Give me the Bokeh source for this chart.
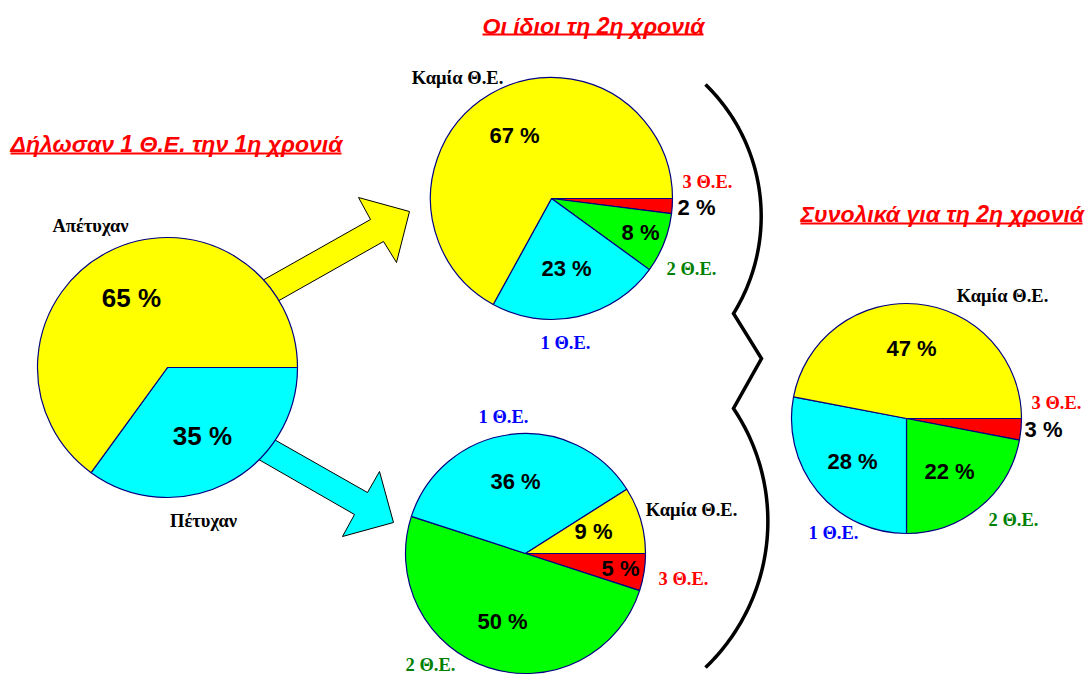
import numpy as np
from bokeh.plotting import figure
from bokeh.models import Range1d, ColumnDataSource
from bokeh.core.properties import value
from bokeh.embed import file_html
from bokeh.resources import INLINE

# ---------------- data ----------------
titles = ["Δήλωσαν 1 Θ.Ε. την 1η χρονιά", "Οι ίδιοι τη 2η χρονιά", "Συνολικά για τη 2η χρονιά"]
first_year_cats = ["Πέτυχαν", "Απέτυχαν"]
first_year_vals = [35, 65]
cats = ["3 Θ.Ε.", "2 Θ.Ε.", "1 Θ.Ε.", "Καμία Θ.Ε."]
failed_second_vals = [2, 8, 23, 67]    # of those who failed (Απέτυχαν)
passed_second_vals = [5, 50, 36, 9]    # of those who passed (Πέτυχαν)
total_second_vals = [3, 22, 28, 47]    # overall, 2nd year

# ---------------- styles ----------------
YELLOW, CYAN, GREEN, RED = "#FFFF00", "#00FFFF", "#00FF00", "#FF0000"
slice_colors = {"Πέτυχαν": CYAN, "Απέτυχαν": YELLOW, "3 Θ.Ε.": RED,
                "2 Θ.Ε.": GREEN, "1 Θ.Ε.": CYAN, "Καμία Θ.Ε.": YELLOW}
label_colors = {"Πέτυχαν": "black", "Απέτυχαν": "black", "3 Θ.Ε.": "#FF0000",
                "2 Θ.Ε.": "#008000", "1 Θ.Ε.": "#0000FF", "Καμία Θ.Ε.": "black"}
SANS = value("Liberation Sans")
SERIF = value("Liberation Serif")

W, H = 1085, 675
def Y(v):
    return H - v

p = figure(width=W, height=H, x_range=Range1d(0, W), y_range=Range1d(0, H),
           x_axis_type=None, y_axis_type=None, output_backend="svg",
           toolbar_location=None, min_border=0)
p.grid.visible = False
p.outline_line_color = None
p.background_fill_color = "white"
p.border_fill_color = "white"

# ---------------- arrows (drawn below pies) ----------------
arrow_shapes = [
    ([237, 370, 358, 409, 396, 383, 252], [294, 219, 197, 211, 262, 241, 315], YELLOW),
    ([249, 367, 379, 393, 342, 354, 232], [425, 492, 471, 522, 536, 514, 444], CYAN),
]
for ax_, ay_, col in arrow_shapes:
    p.patch(ax_, [Y(v) for v in ay_], fill_color=col, line_color="black", line_width=1)

# ---------------- pies ----------------
def draw_pie(cx, cy, r, labels, vals, pct_pos, lbl_pos, pct_size):
    vals = np.array(vals, dtype=float)
    cum = np.concatenate([[0], np.cumsum(vals)[:-1]])
    src = ColumnDataSource(dict(
        start=-(cum + vals) / 100 * 2 * np.pi,
        end=-cum / 100 * 2 * np.pi,
        color=[slice_colors[l] for l in labels],
    ))
    p.wedge(x=cx, y=Y(cy), radius=r, start_angle="start", end_angle="end",
            fill_color="color", line_color="#000080", line_width=1.2, source=src)
    p.text(x=[pct_pos[l][0] for l in labels], y=[Y(pct_pos[l][1]) for l in labels],
           text=[f"{int(v)} %" for v in vals], text_font=SANS, text_font_style="bold",
           text_font_size=pct_size, text_align="center", text_baseline="middle",
           text_color="black")
    p.text(x=[lbl_pos[l][0] for l in labels], y=[Y(lbl_pos[l][1]) for l in labels],
           text=list(labels), text_font=SERIF, text_font_style="bold",
           text_font_size="18.5px", text_align="center", text_baseline="middle",
           text_color=[label_colors[l] for l in labels])

draw_pie(167, 367, 130, first_year_cats, first_year_vals,
         {"Απέτυχαν": (131, 297), "Πέτυχαν": (202, 435)},
         {"Απέτυχαν": (90, 225), "Πέτυχαν": (203, 520)}, "26px")

draw_pie(551, 198, 121, cats, failed_second_vals,
         {"3 Θ.Ε.": (696, 207), "2 Θ.Ε.": (640, 232), "1 Θ.Ε.": (566, 268), "Καμία Θ.Ε.": (514, 135)},
         {"3 Θ.Ε.": (707, 181), "2 Θ.Ε.": (691, 268), "1 Θ.Ε.": (565, 342), "Καμία Θ.Ε.": (457, 77)},
         "22px")

draw_pie(525, 553, 120, cats, passed_second_vals,
         {"3 Θ.Ε.": (620, 568), "2 Θ.Ε.": (502, 621), "1 Θ.Ε.": (515, 481), "Καμία Θ.Ε.": (593, 531)},
         {"3 Θ.Ε.": (683, 578), "2 Θ.Ε.": (430, 664), "1 Θ.Ε.": (503, 416), "Καμία Θ.Ε.": (691, 509)},
         "22px")

draw_pie(906, 418, 115, cats, total_second_vals,
         {"3 Θ.Ε.": (1043, 429), "2 Θ.Ε.": (949, 471), "1 Θ.Ε.": (852, 461), "Καμία Θ.Ε.": (911, 348)},
         {"3 Θ.Ε.": (1056, 402), "2 Θ.Ε.": (1013, 519), "1 Θ.Ε.": (833, 532), "Καμία Θ.Ε.": (1002, 295)},
         "22px")

# ---------------- titles with underline ----------------
title_pos = [(10, 143, 153, 341), (482, 25, 34, 703), (800, 213, 223, 1082)]
p.text(x=[t[0] for t in title_pos], y=[Y(t[1]) for t in title_pos], text=titles,
       text_font=SANS, text_font_style="bold italic", text_font_size="23px",
       text_align="left", text_baseline="middle", text_color=RED)
p.segment(x0=[t[0] for t in title_pos], y0=[Y(t[2]) for t in title_pos],
          x1=[t[3] for t in title_pos], y1=[Y(t[2]) for t in title_pos],
          line_color=RED, line_width=2)

# ---------------- brace ----------------
def arc_through(a, b, c, n=80):
    (ax_, ay_), (bx, by), (cx_, cy_) = a, b, c
    d = 2 * (ax_ * (by - cy_) + bx * (cy_ - ay_) + cx_ * (ay_ - by))
    ux = ((ax_**2 + ay_**2) * (by - cy_) + (bx**2 + by**2) * (cy_ - ay_) + (cx_**2 + cy_**2) * (ay_ - by)) / d
    uy = ((ax_**2 + ay_**2) * (cx_ - bx) + (bx**2 + by**2) * (ax_ - cx_) + (cx_**2 + cy_**2) * (bx - ax_)) / d
    rr = np.hypot(ax_ - ux, ay_ - uy)
    t0 = np.arctan2(ay_ - uy, ax_ - ux)
    t1 = np.arctan2(cy_ - uy, cx_ - ux)
    t = np.linspace(t0, t1, n)
    return list(ux + rr * np.cos(t)), list(uy + rr * np.sin(t))

ux1, uy1 = arc_through((705, Y(84)), (760, Y(200)), (733, Y(313)))
ux2, uy2 = arc_through((733, Y(408)), (767, Y(533)), (705, Y(667)))
bx = ux1 + [761] + ux2
by = uy1 + [Y(358)] + uy2
p.line(bx, by, line_color="black", line_width=3.5, line_join="miter")

open("out.html", "w").write(file_html(p, INLINE))
